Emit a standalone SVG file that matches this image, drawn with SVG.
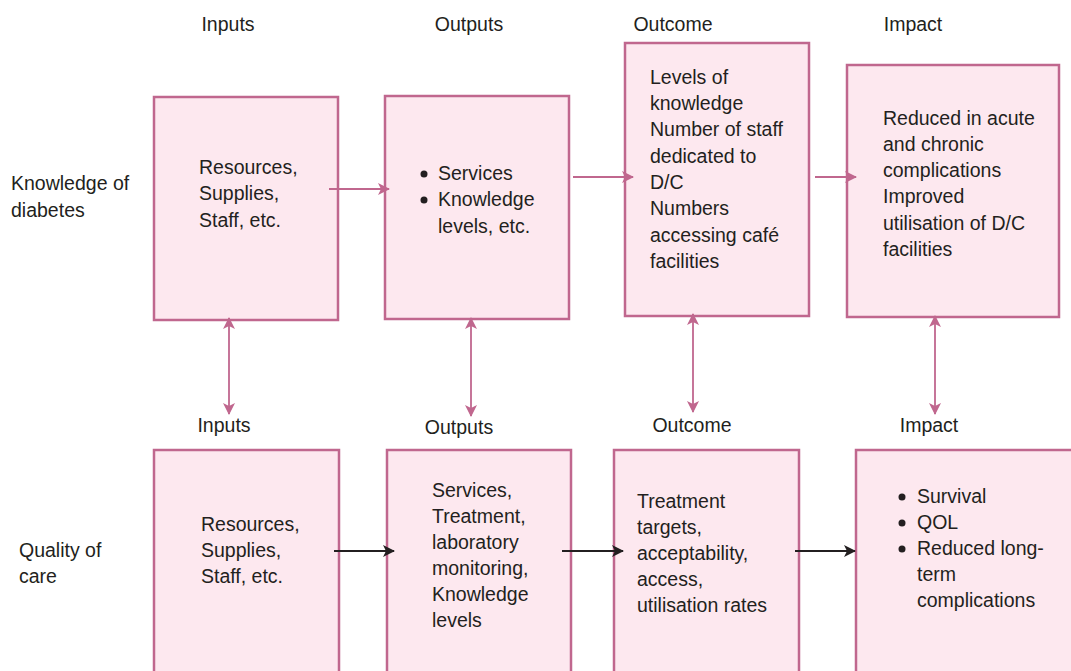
<svg xmlns="http://www.w3.org/2000/svg" width="1071" height="671" viewBox="0 0 1071 671">
<style>
text{font-family:"Liberation Sans",Arial,sans-serif;font-size:19.5px;fill:#231f20}
.box{fill:#fde8ef;stroke:#c0678e;stroke-width:2.5}
.pk{stroke:#c0678e;stroke-width:1.8;fill:none}
.bk{stroke:#231f20;stroke-width:1.8;fill:none}
</style>
<defs>
<marker id="ap" viewBox="0 0 12 12" refX="11" refY="6" markerWidth="12" markerHeight="12" markerUnits="userSpaceOnUse" orient="auto-start-reverse"><path d="M0,0 L12,6 L0,12 L3,6 Z" fill="#c0678e"/></marker>
<marker id="ab" viewBox="0 0 12 12" refX="11" refY="6" markerWidth="12" markerHeight="12" markerUnits="userSpaceOnUse" orient="auto"><path d="M0,0 L12,6 L0,12 L3,6 Z" fill="#231f20"/></marker>
</defs>
<rect width="1071" height="671" fill="#fff"/>
<g id="headers" text-anchor="middle">
<text x="228" y="31">Inputs</text>
<text x="469" y="31">Outputs</text>
<text x="673" y="31">Outcome</text>
<text x="913" y="31">Impact</text>
<text x="224" y="432">Inputs</text>
<text x="459" y="434">Outputs</text>
<text x="692" y="432">Outcome</text>
<text x="929" y="432">Impact</text>
</g>
<g id="row-labels">
<text x="11" y="190">Knowledge of</text>
<text x="11" y="217">diabetes</text>
<text x="19" y="557">Quality of</text>
<text x="19" y="583">care</text>
</g>
<g id="k-inputs">
<rect class="box" x="154" y="97" width="184" height="223"/>
<text x="199" y="174">Resources,</text>
<text x="199" y="200">Supplies,</text>
<text x="199" y="227">Staff, etc.</text>
</g>
<g id="k-outputs">
<rect class="box" x="385" y="96" width="184" height="223"/>
<circle cx="424" cy="174" r="3.5" fill="#231f20"/>
<circle cx="424" cy="200" r="3.5" fill="#231f20"/>
<text x="438" y="180">Services</text>
<text x="438" y="206">Knowledge</text>
<text x="438" y="233">levels, etc.</text>
</g>
<g id="k-outcome">
<rect class="box" x="625" y="43" width="184" height="273"/>
<text x="650" y="84">Levels of</text>
<text x="650" y="110">knowledge</text>
<text x="650" y="136">Number of staff</text>
<text x="650" y="163">dedicated to</text>
<text x="650" y="189">D/C</text>
<text x="650" y="215">Numbers</text>
<text x="650" y="242">accessing café</text>
<text x="650" y="268">facilities</text>
</g>
<g id="k-impact">
<rect class="box" x="847" y="65" width="212" height="252"/>
<text x="883" y="125">Reduced in acute</text>
<text x="883" y="151">and chronic</text>
<text x="883" y="177">complications</text>
<text x="883" y="203">Improved</text>
<text x="883" y="230">utilisation of D/C</text>
<text x="883" y="256">facilities</text>
</g>
<g id="q-inputs">
<rect class="box" x="154" y="450" width="185" height="235"/>
<text x="201" y="531">Resources,</text>
<text x="201" y="557">Supplies,</text>
<text x="201" y="583">Staff, etc.</text>
</g>
<g id="q-outputs">
<rect class="box" x="387" y="450" width="184" height="235"/>
<text x="432" y="497">Services,</text>
<text x="432" y="523">Treatment,</text>
<text x="432" y="549">laboratory</text>
<text x="432" y="575">monitoring,</text>
<text x="432" y="601">Knowledge</text>
<text x="432" y="627">levels</text>
</g>
<g id="q-outcome">
<rect class="box" x="614" y="450" width="185" height="235"/>
<text x="637" y="508">Treatment</text>
<text x="637" y="534">targets,</text>
<text x="637" y="560">acceptability,</text>
<text x="637" y="586">access,</text>
<text x="637" y="612">utilisation rates</text>
</g>
<g id="q-impact">
<rect class="box" x="856" y="450" width="230" height="235"/>
<circle cx="902" cy="497" r="3.5" fill="#231f20"/>
<circle cx="902" cy="523" r="3.5" fill="#231f20"/>
<circle cx="902" cy="549" r="3.5" fill="#231f20"/>
<text x="917" y="503">Survival</text>
<text x="917" y="529">QOL</text>
<text x="917" y="555">Reduced long-</text>
<text x="917" y="581">term</text>
<text x="917" y="607">complications</text>
</g>
<g id="connectors">
<line class="pk" x1="329" y1="189" x2="389" y2="189" marker-end="url(#ap)"/>
<line class="pk" x1="573" y1="177" x2="633" y2="177" marker-end="url(#ap)"/>
<line class="pk" x1="815" y1="177" x2="856" y2="177" marker-end="url(#ap)"/>
<line class="bk" x1="334" y1="551" x2="394" y2="551" marker-end="url(#ab)"/>
<line class="bk" x1="562" y1="551" x2="623" y2="551" marker-end="url(#ab)"/>
<line class="bk" x1="795" y1="551" x2="855" y2="551" marker-end="url(#ab)"/>
<line class="pk" x1="229" y1="318" x2="229" y2="414" marker-start="url(#ap)" marker-end="url(#ap)"/>
<line class="pk" x1="471" y1="318" x2="471" y2="416" marker-start="url(#ap)" marker-end="url(#ap)"/>
<line class="pk" x1="693" y1="314" x2="693" y2="412" marker-start="url(#ap)" marker-end="url(#ap)"/>
<line class="pk" x1="935" y1="316" x2="935" y2="414" marker-start="url(#ap)" marker-end="url(#ap)"/>
</g>
</svg>
